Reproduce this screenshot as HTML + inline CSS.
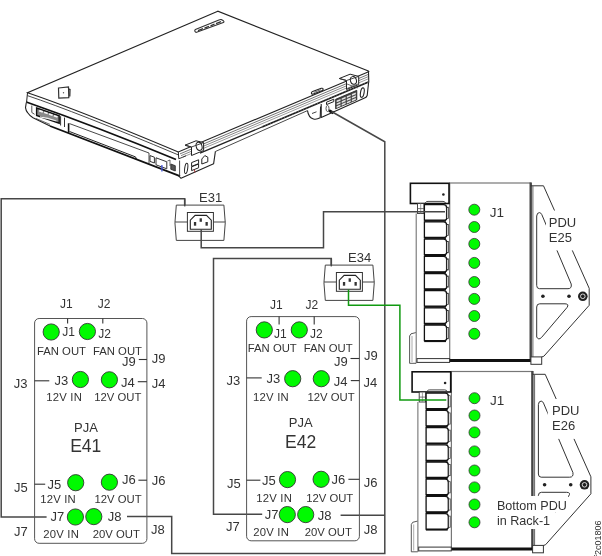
<!DOCTYPE html>
<html><head><meta charset="utf-8"><style>
html,body{margin:0;padding:0;background:#fff;}
svg{display:block;will-change:transform;}
text{font-family:"Liberation Sans",sans-serif;fill:#333;}
</style></head><body>
<svg width="602" height="556" viewBox="0 0 602 556">
<rect width="602" height="556" fill="#fff"/>
<path d="M217.8,11.2 L27.5,92.75 Q76.2,109.1 178.3,152 L368,71.9 Q369.6,71.4 368.4,70.9 Z" fill="#fff" stroke="#222" stroke-width="1.1"/>
<path d="M196.6,32.3 L223.3,22.6 Q224.6,21.8 223.4,20.8 L221.3,19.6 Q220.3,19.3 219.5,19.8 L196,29.3 Q194.2,30.2 195,31.6 Q195.6,32.6 196.6,32.3 Z" fill="#fff" stroke="#333" stroke-width="1.1"/>
<path d="M198,30.6 L203,28.7 M204.5,28.1 L209,26.4 M210.5,25.8 L214.5,24.2 M216,23.6 L221,21.7" stroke="#333" stroke-width="1.3"/>
<path d="M58.5,88 L68.5,86.8 L68.8,97.6 L58.8,98.2 Z" fill="#fff" stroke="#333" stroke-width="1.2"/>
<circle cx="63.5" cy="92.8" r="0.7" fill="#555"/>
<path d="M68.8,89 L70,89.5 L69.8,96.5" fill="none" stroke="#222" stroke-width="1.2"/>
<path d="M312.6,91.6 L321.3,88.3 Q323.4,87.8 323.1,89.5 Q322.9,90.3 321.9,90.7 L313.3,94 Q311.3,94.5 311.4,92.9 Q311.6,92 312.6,91.6 Z" fill="#fff" stroke="#222" stroke-width="1.1"/>
<path d="M313.8,92.4 L320.9,89.7" stroke="#555" stroke-width="0.9"/>
<path d="M27.5,95.65 Q76.2,112.00 178.3,154.90" fill="none" stroke="#333" stroke-width="0.9" stroke-linejoin="round" />
<path d="M26.3,102.00 Q100,128.00 176,159.50" fill="none" stroke="#111" stroke-width="1.8" stroke-linejoin="round" />
<path d="M27.5,92.75 L26.6,102" fill="none" stroke="#222" stroke-width="1.0" stroke-linejoin="round" />
<path d="M26.3,102.5 L25.5,107.7 Q26,111 27.5,112.5 Q29.5,115.5 33,117.8 L50,126" fill="none" stroke="#222" stroke-width="1.1" stroke-linejoin="round" />
<path d="M50,126 L180,176.05" fill="none" stroke="#111" stroke-width="1.8" stroke-linejoin="round" />
<path d="M36,118.5 L50,124.4" fill="none" stroke="#444" stroke-width="0.8" stroke-linejoin="round" />
<path d="M36.6,108 L59.2,115.8 L59.2,123.2 L36.6,115.4 Z" fill="#8a8a8a" stroke="#111" stroke-width="1.4"/>
<path d="M39.2,110.6 l3.6,1.25" stroke="#fafafa" stroke-width="1.7"/>
<path d="M44.1,112.3 l3.6,1.25" stroke="#fafafa" stroke-width="1.7"/>
<path d="M49.0,114.0 l3.6,1.25" stroke="#fafafa" stroke-width="1.7"/>
<path d="M53.9,115.7 l3.6,1.25" stroke="#fafafa" stroke-width="1.7"/>
<path d="M40,116.2 Q48,116.8 56.5,120.6 L56.5,121.6 Q48,119 40,117.6 Z" fill="#eee"/>
<path d="M31.8,105.5 L31.8,112.5 L34.6,114.3" fill="none" stroke="#555" stroke-width="1.0" stroke-linejoin="round" />
<path d="M60.6,116.2 L60.6,125.5 M64.5,117.6 L64.5,127" fill="none" stroke="#333" stroke-width="1.0" stroke-linejoin="round" />
<path d="M68.6,123.3 L68.6,132.9" fill="none" stroke="#111" stroke-width="1.6" stroke-linejoin="round" />
<path d="M69.5,123.6 L149,153.0 L149,163.6" fill="none" stroke="#333" stroke-width="0.9" stroke-linejoin="round" />
<path d="M69.5,131.5 L135.5,156.9 L136.5,159.0" fill="none" stroke="#222" stroke-width="1.0" stroke-linejoin="round" />
<path d="M150,155.6 L154.4,157.2 L154.4,163 L150,161.4 Z" fill="none" stroke="#333" stroke-width="1.0" stroke-linejoin="round" />
<path d="M156,157.8 L166.8,161.8 L166.8,168.8 L156,164.8 Z" fill="none" stroke="#333" stroke-width="1.0" stroke-linejoin="round" />
<line x1="161.9" y1="165" x2="161.9" y2="171.5" stroke="#4455dd" stroke-width="1.3"/>
<path d="M170.8,164 L175.3,165.7 L175.3,171 L170.8,169.3 Z" fill="#555" stroke="#222" stroke-width="0.8"/>
<path d="M167.5,161 L170,160 L170,166" fill="none" stroke="#444" stroke-width="0.8" stroke-linejoin="round" />
<path d="M180.0,153.88 L368.5,74.34" fill="none" stroke="#444" stroke-width="0.75" stroke-linejoin="round" />
<path d="M181.0,155.66 L368.5,76.54" fill="none" stroke="#555" stroke-width="0.7" stroke-linejoin="round" />
<path d="M183.0,157.02 L368.5,78.74" fill="none" stroke="#666" stroke-width="0.65" stroke-linejoin="round" />
<path d="M200.0,153.14 L262.0,126.98" fill="none" stroke="#222" stroke-width="1.3" stroke-linejoin="round" />
<path d="M262.0,126.98 L368.5,82.04" fill="none" stroke="#1a1a1a" stroke-width="1.8" stroke-linejoin="round" />
<path d="M262.0,126.98 L368.5,82.04" fill="none" stroke="#bbb" stroke-width="0.6" stroke-linejoin="round" stroke-dasharray="0.7 2.3"/>
<path d="M215.4,151.5 L307.5,110.6" fill="none" stroke="#333" stroke-width="0.9" stroke-linejoin="round" />
<path d="M368.5,71.2 L368.8,82.5" fill="none" stroke="#222" stroke-width="1.1" stroke-linejoin="round" />
<path d="M368.6,82.5 L367.2,95.5 Q366.5,97.5 364,98.3 L321.2,117.4 L321.2,104" fill="none" stroke="#222" stroke-width="1.1" stroke-linejoin="round" />
<path d="M307.5,110.6 Q308.5,117.6 313.5,119 Q316.5,119.8 320.2,117.8 L320.6,106.5" fill="none" stroke="#222" stroke-width="1.1" stroke-linejoin="round" />
<path d="M312,113.5 L316.5,111.8" fill="none" stroke="#444" stroke-width="1.0" stroke-linejoin="round" />
<path d="M335.6,99.3 L356.8,90.3 L356.8,99.8 L335.6,108.8 Z" fill="#444" stroke="#222" stroke-width="0.8"/>
<path d="M336.6,100.6 l3.9,-1.65 l0,1.7 l-3.9,1.65 z" fill="#e4e4e4"/>
<path d="M341.7,98.4 l3.9,-1.65 l0,1.7 l-3.9,1.65 z" fill="#e4e4e4"/>
<path d="M346.8,96.3 l3.9,-1.65 l0,1.7 l-3.9,1.65 z" fill="#e4e4e4"/>
<path d="M351.9,94.1 l3.9,-1.65 l0,1.7 l-3.9,1.65 z" fill="#e4e4e4"/>
<path d="M336.6,103.4 l3.9,-1.65 l0,1.7 l-3.9,1.65 z" fill="#e4e4e4"/>
<path d="M341.7,101.2 l3.9,-1.65 l0,1.7 l-3.9,1.65 z" fill="#e4e4e4"/>
<path d="M346.8,99.1 l3.9,-1.65 l0,1.7 l-3.9,1.65 z" fill="#e4e4e4"/>
<path d="M351.9,96.9 l3.9,-1.65 l0,1.7 l-3.9,1.65 z" fill="#e4e4e4"/>
<path d="M336.6,106.2 l3.9,-1.65 l0,1.7 l-3.9,1.65 z" fill="#e4e4e4"/>
<path d="M341.7,104.0 l3.9,-1.65 l0,1.7 l-3.9,1.65 z" fill="#e4e4e4"/>
<path d="M346.8,101.9 l3.9,-1.65 l0,1.7 l-3.9,1.65 z" fill="#e4e4e4"/>
<path d="M351.9,99.7 l3.9,-1.65 l0,1.7 l-3.9,1.65 z" fill="#e4e4e4"/>
<ellipse cx="362.3" cy="92.6" rx="1.8" ry="4.8" transform="rotate(10 362.3 92.6)" fill="#fff" stroke="#222" stroke-width="1.1"/>
<path d="M326.5,102.2 L333.8,99.2 L333.8,101.6 L326.5,104.6 Z" fill="none" stroke="#222" stroke-width="1.0" stroke-linejoin="round" />
<ellipse cx="327.5" cy="108.5" rx="1.5" ry="3" fill="#fff" stroke="#444" stroke-width="0.9"/>
<path d="M329,110.5 L333.5,113" fill="none" stroke="#111" stroke-width="2.6" stroke-linejoin="round" />
<path d="M339.3,78.5 L350.1,74.2 L358.7,76.4 L358.7,84.5 L346.5,89.5 L346.5,80.5 Z" fill="#fff" stroke="#222" stroke-width="1"/>
<ellipse cx="353.4" cy="80.4" rx="3.0" ry="3.9" transform="rotate(-15 353.4 80.4)" fill="#fff" stroke="#222" stroke-width="1"/>
<path d="M347,84 L357.5,88 M347,88.5 L357.5,84" stroke="#444" stroke-width="0.8"/>
<path d="M339.3,78.5 L346.5,80.5 L358.7,76.4" fill="none" stroke="#333" stroke-width="0.9" stroke-linejoin="round" />
<path d="M185,145.2 L196,140.8 L203.6,142.6 L203.6,150.5 L191.5,155.5 L191.5,147 Z" fill="#fff" stroke="#222" stroke-width="1"/>
<ellipse cx="199.1" cy="146.3" rx="2.9" ry="4.2" transform="rotate(-15 199.1 146.3)" fill="#fff" stroke="#222" stroke-width="1"/>
<path d="M185,145.2 L191.5,147 L203.6,142.6" fill="none" stroke="#333" stroke-width="0.9" stroke-linejoin="round" />
<path d="M178.3,152 L178.8,158.8" fill="none" stroke="#222" stroke-width="1.0" stroke-linejoin="round" />
<path d="M178.8,158.8 L186,155.8" fill="none" stroke="#222" stroke-width="0.9" stroke-linejoin="round" />
<path d="M215.4,151.4 L213.6,163.8 L181,178.3 L178.5,175.6" fill="none" stroke="#222" stroke-width="1.1" stroke-linejoin="round" />
<path d="M179.6,176 L179.6,160.5" fill="none" stroke="#333" stroke-width="0.9" stroke-linejoin="round" />
<ellipse cx="186.2" cy="168.4" rx="1.5" ry="5.2" transform="rotate(8 186.2 168.4)" fill="#fff" stroke="#222" stroke-width="1"/>
<path d="M191.6,162.6 L198.6,159.8 L198.6,163.6 L191.6,166.4 Z" fill="none" stroke="#222" stroke-width="1.0" stroke-linejoin="round" />
<path d="M191.6,166.8 L198.6,164 L198.6,167.8 L191.6,170.6 Z" fill="none" stroke="#222" stroke-width="1.0" stroke-linejoin="round" />
<line x1="194.3" y1="169.5" x2="195" y2="172.5" stroke="#aa3333" stroke-width="0.9"/>
<path d="M201.8,164 L201.8,159 L204.8,155.6 L207.8,157.2 L207.8,161.8 Z" fill="none" stroke="#222" stroke-width="1.0" stroke-linejoin="round" />
<g transform="translate(0,0)">
<rect x="449.7" y="183" width="81" height="177.5" fill="#fff" stroke="#777" stroke-width="1.2"/>
<line x1="530.7" y1="182.5" x2="530.7" y2="361" stroke="#444" stroke-width="2.4"/>
<line x1="448" y1="360.6" x2="531" y2="360.6" stroke="#111" stroke-width="3"/>
<path d="M530.7,185.8 L543.5,185.8 L589.2,288.3 L589.2,305.3 L543.9,356.2 L541.7,357" fill="none" stroke="#333" stroke-width="1"/>
<line x1="532.9" y1="186" x2="532.9" y2="357" stroke="#555" stroke-width="0.9"/>
<rect x="530.9" y="356.9" width="10.8" height="7.4" fill="#fff" stroke="#333" stroke-width="1"/>
<path d="M536.7,285.5 L536.7,216 Q537,212.5 539.5,212.6 Q541,212.8 541.8,214.6 L571.2,284 Q572,288.7 568,288.7 L539.5,288.7 Q536.7,288.7 536.7,285.5 Z" fill="none" stroke="#333" stroke-width="1"/>
<path d="M536.7,307 Q536.7,303.8 539.7,303.8 L565,303.8 Q569.5,304 567,307.5 L541.5,337.5 Q538.5,340.5 536.7,337 Z" fill="none" stroke="#333" stroke-width="1"/>
<circle cx="542.9" cy="296.2" r="1.8" fill="#222"/>
<circle cx="569" cy="296.2" r="1.8" fill="#222"/>
<circle cx="582.8" cy="296.3" r="4.8" fill="#222"/>
<circle cx="582.8" cy="296.3" r="2.3" fill="none" stroke="#e8e8e8" stroke-width="0.9"/>
<rect x="410.4" y="183.3" width="38.6" height="20.2" fill="#fff" stroke="#111" stroke-width="1.6"/>
<circle cx="443.4" cy="194.5" r="1.3" fill="#222"/>
<line x1="416.2" y1="213.5" x2="416.2" y2="363.3" stroke="#666" stroke-width="1"/>
<rect x="417.5" y="203.5" width="6.5" height="10" fill="#fff" stroke="#333" stroke-width="0.9"/>
<line x1="420.7" y1="203.5" x2="420.7" y2="213.5" stroke="#888" stroke-width="0.8"/>
<line x1="417.5" y1="208.6" x2="424" y2="208.6" stroke="#555" stroke-width="0.8"/>
<path d="M425.5,203.6 L425.5,202.5 Q426,201.4 428,201.4 L443,201.4 Q445,201.4 445.5,203" fill="none" stroke="#333" stroke-width="0.9"/>
<path d="M424.4,204.7 L443.5,204.7 Q446.6,204.7 446.6,207.7 L446.6,218.4 Q446.6,220.2 444.5,220.2 L424.4,220.2 Z" fill="#fff" stroke="#111" stroke-width="1.3"/>
<line x1="424.2" y1="220.9" x2="446" y2="220.9" stroke="#111" stroke-width="1.6"/>
<rect x="446.9" y="207.2" width="1.6" height="11.2" fill="#fff" stroke="#222" stroke-width="0.7"/>
<path d="M424.4,221.9 L443.5,221.9 Q446.6,221.9 446.6,224.9 L446.6,235.6 Q446.6,237.4 444.5,237.4 L424.4,237.4 Z" fill="#fff" stroke="#111" stroke-width="1.3"/>
<line x1="424.2" y1="238.1" x2="446" y2="238.1" stroke="#111" stroke-width="1.6"/>
<rect x="446.9" y="224.4" width="1.6" height="11.2" fill="#fff" stroke="#222" stroke-width="0.7"/>
<path d="M424.4,239.1 L443.5,239.1 Q446.6,239.1 446.6,242.1 L446.6,252.8 Q446.6,254.6 444.5,254.6 L424.4,254.6 Z" fill="#fff" stroke="#111" stroke-width="1.3"/>
<line x1="424.2" y1="255.3" x2="446" y2="255.3" stroke="#111" stroke-width="1.6"/>
<rect x="446.9" y="241.6" width="1.6" height="11.2" fill="#fff" stroke="#222" stroke-width="0.7"/>
<path d="M424.4,256.3 L443.5,256.3 Q446.6,256.3 446.6,259.3 L446.6,270.0 Q446.6,271.8 444.5,271.8 L424.4,271.8 Z" fill="#fff" stroke="#111" stroke-width="1.3"/>
<line x1="424.2" y1="272.5" x2="446" y2="272.5" stroke="#111" stroke-width="1.6"/>
<rect x="446.9" y="258.8" width="1.6" height="11.2" fill="#fff" stroke="#222" stroke-width="0.7"/>
<path d="M424.4,273.5 L443.5,273.5 Q446.6,273.5 446.6,276.5 L446.6,287.2 Q446.6,289.0 444.5,289.0 L424.4,289.0 Z" fill="#fff" stroke="#111" stroke-width="1.3"/>
<line x1="424.2" y1="289.7" x2="446" y2="289.7" stroke="#111" stroke-width="1.6"/>
<rect x="446.9" y="276.0" width="1.6" height="11.2" fill="#fff" stroke="#222" stroke-width="0.7"/>
<path d="M424.4,290.7 L443.5,290.7 Q446.6,290.7 446.6,293.7 L446.6,304.4 Q446.6,306.2 444.5,306.2 L424.4,306.2 Z" fill="#fff" stroke="#111" stroke-width="1.3"/>
<line x1="424.2" y1="306.9" x2="446" y2="306.9" stroke="#111" stroke-width="1.6"/>
<rect x="446.9" y="293.2" width="1.6" height="11.2" fill="#fff" stroke="#222" stroke-width="0.7"/>
<path d="M424.4,307.9 L443.5,307.9 Q446.6,307.9 446.6,310.9 L446.6,321.6 Q446.6,323.4 444.5,323.4 L424.4,323.4 Z" fill="#fff" stroke="#111" stroke-width="1.3"/>
<line x1="424.2" y1="324.1" x2="446" y2="324.1" stroke="#111" stroke-width="1.6"/>
<rect x="446.9" y="310.4" width="1.6" height="11.2" fill="#fff" stroke="#222" stroke-width="0.7"/>
<path d="M424.4,325.1 L443.5,325.1 Q446.6,325.1 446.6,328.1 L446.6,338.8 Q446.6,340.6 444.5,340.6 L424.4,340.6 Z" fill="#fff" stroke="#111" stroke-width="1.3"/>
<line x1="424.2" y1="341.3" x2="446" y2="341.3" stroke="#111" stroke-width="1.6"/>
<rect x="446.9" y="327.6" width="1.6" height="11.2" fill="#fff" stroke="#222" stroke-width="0.7"/>
<rect x="417" y="358.6" width="32.6" height="3.8" fill="#fff" stroke="#333" stroke-width="1"/>
<path d="M415.8,332.6 L411,333.8 L409.6,336 L409.6,363.3 L416,363.3" fill="none" stroke="#444" stroke-width="0.9"/>
<line x1="412" y1="336" x2="412" y2="362" stroke="#888" stroke-width="0.7"/>
<circle cx="474.3" cy="209.7" r="5.5" fill="#00fa00" stroke="#333" stroke-width="0.8"/>
<circle cx="474.3" cy="227.0" r="5.5" fill="#00fa00" stroke="#333" stroke-width="0.8"/>
<circle cx="474.3" cy="243.9" r="5.5" fill="#00fa00" stroke="#333" stroke-width="0.8"/>
<circle cx="474.3" cy="262.9" r="5.5" fill="#00fa00" stroke="#333" stroke-width="0.8"/>
<circle cx="474.3" cy="282.0" r="5.5" fill="#00fa00" stroke="#333" stroke-width="0.8"/>
<circle cx="474.3" cy="298.9" r="5.5" fill="#00fa00" stroke="#333" stroke-width="0.8"/>
<circle cx="474.3" cy="316.0" r="5.5" fill="#00fa00" stroke="#333" stroke-width="0.8"/>
<circle cx="474.3" cy="333.8" r="5.5" fill="#00fa00" stroke="#333" stroke-width="0.8"/>
<text x="489.8" y="216.9" font-size="13.5">J1</text>
<rect x="546" y="210.5" width="34" height="39.9" fill="#fff"/>
<text x="548.8" y="226.8" font-size="13">PDU</text>
<text x="548.8" y="241.7" font-size="13">E25</text>
</g>
<g transform="translate(1.7,188.5)">
<rect x="449.7" y="183" width="81" height="177.5" fill="#fff" stroke="#777" stroke-width="1.2"/>
<line x1="530.7" y1="182.5" x2="530.7" y2="361" stroke="#444" stroke-width="2.4"/>
<line x1="448" y1="360.6" x2="531" y2="360.6" stroke="#111" stroke-width="3"/>
<path d="M530.7,185.8 L543.5,185.8 L589.2,288.3 L589.2,305.3 L543.9,356.2 L541.7,357" fill="none" stroke="#333" stroke-width="1"/>
<line x1="532.9" y1="186" x2="532.9" y2="357" stroke="#555" stroke-width="0.9"/>
<rect x="530.9" y="356.9" width="10.8" height="7.4" fill="#fff" stroke="#333" stroke-width="1"/>
<path d="M536.7,285.5 L536.7,216 Q537,212.5 539.5,212.6 Q541,212.8 541.8,214.6 L571.2,284 Q572,288.7 568,288.7 L539.5,288.7 Q536.7,288.7 536.7,285.5 Z" fill="none" stroke="#333" stroke-width="1"/>
<path d="M536.7,307 Q536.7,303.8 539.7,303.8 L565,303.8 Q569.5,304 567,307.5 L541.5,337.5 Q538.5,340.5 536.7,337 Z" fill="none" stroke="#333" stroke-width="1"/>
<circle cx="542.9" cy="296.2" r="1.8" fill="#222"/>
<circle cx="569" cy="296.2" r="1.8" fill="#222"/>
<circle cx="582.8" cy="296.3" r="4.8" fill="#222"/>
<circle cx="582.8" cy="296.3" r="2.3" fill="none" stroke="#e8e8e8" stroke-width="0.9"/>
<rect x="410.4" y="183.3" width="38.6" height="20.2" fill="#fff" stroke="#111" stroke-width="1.6"/>
<circle cx="443.4" cy="194.5" r="1.3" fill="#222"/>
<line x1="416.2" y1="213.5" x2="416.2" y2="363.3" stroke="#666" stroke-width="1"/>
<rect x="417.5" y="203.5" width="6.5" height="10" fill="#fff" stroke="#333" stroke-width="0.9"/>
<line x1="420.7" y1="203.5" x2="420.7" y2="213.5" stroke="#888" stroke-width="0.8"/>
<line x1="417.5" y1="208.6" x2="424" y2="208.6" stroke="#555" stroke-width="0.8"/>
<path d="M425.5,203.6 L425.5,202.5 Q426,201.4 428,201.4 L443,201.4 Q445,201.4 445.5,203" fill="none" stroke="#333" stroke-width="0.9"/>
<path d="M424.4,204.7 L443.5,204.7 Q446.6,204.7 446.6,207.7 L446.6,218.4 Q446.6,220.2 444.5,220.2 L424.4,220.2 Z" fill="#fff" stroke="#111" stroke-width="1.3"/>
<line x1="424.2" y1="220.9" x2="446" y2="220.9" stroke="#111" stroke-width="1.6"/>
<rect x="446.9" y="207.2" width="1.6" height="11.2" fill="#fff" stroke="#222" stroke-width="0.7"/>
<path d="M424.4,221.9 L443.5,221.9 Q446.6,221.9 446.6,224.9 L446.6,235.6 Q446.6,237.4 444.5,237.4 L424.4,237.4 Z" fill="#fff" stroke="#111" stroke-width="1.3"/>
<line x1="424.2" y1="238.1" x2="446" y2="238.1" stroke="#111" stroke-width="1.6"/>
<rect x="446.9" y="224.4" width="1.6" height="11.2" fill="#fff" stroke="#222" stroke-width="0.7"/>
<path d="M424.4,239.1 L443.5,239.1 Q446.6,239.1 446.6,242.1 L446.6,252.8 Q446.6,254.6 444.5,254.6 L424.4,254.6 Z" fill="#fff" stroke="#111" stroke-width="1.3"/>
<line x1="424.2" y1="255.3" x2="446" y2="255.3" stroke="#111" stroke-width="1.6"/>
<rect x="446.9" y="241.6" width="1.6" height="11.2" fill="#fff" stroke="#222" stroke-width="0.7"/>
<path d="M424.4,256.3 L443.5,256.3 Q446.6,256.3 446.6,259.3 L446.6,270.0 Q446.6,271.8 444.5,271.8 L424.4,271.8 Z" fill="#fff" stroke="#111" stroke-width="1.3"/>
<line x1="424.2" y1="272.5" x2="446" y2="272.5" stroke="#111" stroke-width="1.6"/>
<rect x="446.9" y="258.8" width="1.6" height="11.2" fill="#fff" stroke="#222" stroke-width="0.7"/>
<path d="M424.4,273.5 L443.5,273.5 Q446.6,273.5 446.6,276.5 L446.6,287.2 Q446.6,289.0 444.5,289.0 L424.4,289.0 Z" fill="#fff" stroke="#111" stroke-width="1.3"/>
<line x1="424.2" y1="289.7" x2="446" y2="289.7" stroke="#111" stroke-width="1.6"/>
<rect x="446.9" y="276.0" width="1.6" height="11.2" fill="#fff" stroke="#222" stroke-width="0.7"/>
<path d="M424.4,290.7 L443.5,290.7 Q446.6,290.7 446.6,293.7 L446.6,304.4 Q446.6,306.2 444.5,306.2 L424.4,306.2 Z" fill="#fff" stroke="#111" stroke-width="1.3"/>
<line x1="424.2" y1="306.9" x2="446" y2="306.9" stroke="#111" stroke-width="1.6"/>
<rect x="446.9" y="293.2" width="1.6" height="11.2" fill="#fff" stroke="#222" stroke-width="0.7"/>
<path d="M424.4,307.9 L443.5,307.9 Q446.6,307.9 446.6,310.9 L446.6,321.6 Q446.6,323.4 444.5,323.4 L424.4,323.4 Z" fill="#fff" stroke="#111" stroke-width="1.3"/>
<line x1="424.2" y1="324.1" x2="446" y2="324.1" stroke="#111" stroke-width="1.6"/>
<rect x="446.9" y="310.4" width="1.6" height="11.2" fill="#fff" stroke="#222" stroke-width="0.7"/>
<path d="M424.4,325.1 L443.5,325.1 Q446.6,325.1 446.6,328.1 L446.6,338.8 Q446.6,340.6 444.5,340.6 L424.4,340.6 Z" fill="#fff" stroke="#111" stroke-width="1.3"/>
<line x1="424.2" y1="341.3" x2="446" y2="341.3" stroke="#111" stroke-width="1.6"/>
<rect x="446.9" y="327.6" width="1.6" height="11.2" fill="#fff" stroke="#222" stroke-width="0.7"/>
<rect x="417" y="358.6" width="32.6" height="3.8" fill="#fff" stroke="#333" stroke-width="1"/>
<path d="M415.8,332.6 L411,333.8 L409.6,336 L409.6,363.3 L416,363.3" fill="none" stroke="#444" stroke-width="0.9"/>
<line x1="412" y1="336" x2="412" y2="362" stroke="#888" stroke-width="0.7"/>
<circle cx="472.8" cy="209.7" r="5.5" fill="#00fa00" stroke="#333" stroke-width="0.8"/>
<circle cx="472.8" cy="227.0" r="5.5" fill="#00fa00" stroke="#333" stroke-width="0.8"/>
<circle cx="472.8" cy="243.9" r="5.5" fill="#00fa00" stroke="#333" stroke-width="0.8"/>
<circle cx="472.8" cy="262.9" r="5.5" fill="#00fa00" stroke="#333" stroke-width="0.8"/>
<circle cx="472.8" cy="282.0" r="5.5" fill="#00fa00" stroke="#333" stroke-width="0.8"/>
<circle cx="472.8" cy="298.9" r="5.5" fill="#00fa00" stroke="#333" stroke-width="0.8"/>
<circle cx="472.8" cy="316.0" r="5.5" fill="#00fa00" stroke="#333" stroke-width="0.8"/>
<circle cx="472.8" cy="333.8" r="5.5" fill="#00fa00" stroke="#333" stroke-width="0.8"/>
<text x="488.3" y="216.9" font-size="13.5">J1</text>
<rect x="546" y="210.5" width="34" height="39.9" fill="#fff"/>
<text x="550.3" y="226.8" font-size="13">PDU</text>
<text x="550.3" y="241.7" font-size="13">E26</text>
</g>
<rect x="495" y="496" width="73" height="16" fill="#fff"/>
<rect x="495" y="511.5" width="60" height="17.5" fill="#fff"/>
<text x="496.9" y="510.1" font-size="12.6">Bottom PDU</text>
<text x="496.9" y="524.6" font-size="12.6">in Rack-1</text>
<text transform="translate(601.4,557.6) rotate(-90)" font-size="9" fill="#444">f2c01806</text>
<polyline points="184.7,206.4 184.7,198.7 1.2,198.7 1.2,517 46.6,517" fill="none" stroke="#474747" stroke-width="1.5" />
<polyline points="201.2,229.5 201.2,247.7 323.5,247.7 323.5,211.8 445,211.8" fill="none" stroke="#474747" stroke-width="1.5" />
<polyline points="262.2,514.3 213.5,514.3 213.5,258.5 331.3,258.5 331.3,266" fill="none" stroke="#474747" stroke-width="1.5" />
<polyline points="331.5,111.5 384.8,141.8 384.8,553.5 171.7,553.5 171.7,516.6 127,516.6" fill="none" stroke="#474747" stroke-width="1.5" />
<line x1="340.6" y1="515.3" x2="384.8" y2="515.3" stroke="#474747" stroke-width="1.5"/>
<polyline points="348.5,289.5 348.5,305.3 399.9,305.3 399.9,400 446.3,400" fill="none" stroke="#119a11" stroke-width="1.5" />
<rect x="34.6" y="318.5" width="112.30000000000001" height="224.79999999999995" rx="4.5" fill="none" stroke="#555" stroke-width="1"/>
<line x1="67.6" y1="318.5" x2="67.6" y2="323.5" stroke="#333" stroke-width="1.1"/>
<line x1="102.8" y1="318.5" x2="102.8" y2="323.5" stroke="#333" stroke-width="1.1"/>
<line x1="138.8" y1="359.5" x2="146.9" y2="359.5" stroke="#333" stroke-width="1.1"/>
<line x1="34.6" y1="380.8" x2="49.3" y2="380.8" stroke="#333" stroke-width="1.1"/>
<line x1="137.8" y1="381.7" x2="146.9" y2="381.7" stroke="#333" stroke-width="1.1"/>
<line x1="34.6" y1="484.2" x2="45.2" y2="484.2" stroke="#333" stroke-width="1.1"/>
<line x1="138.4" y1="480.2" x2="146.9" y2="480.2" stroke="#333" stroke-width="1.1"/>
<circle cx="51.2" cy="332" r="8.1" fill="#00fa00" stroke="#333" stroke-width="0.9"/>
<circle cx="87.4" cy="331.5" r="8.1" fill="#00fa00" stroke="#333" stroke-width="0.9"/>
<circle cx="80.4" cy="379.5" r="8.1" fill="#00fa00" stroke="#333" stroke-width="0.9"/>
<circle cx="109.4" cy="379.8" r="8.1" fill="#00fa00" stroke="#333" stroke-width="0.9"/>
<circle cx="75.7" cy="482.7" r="8.1" fill="#00fa00" stroke="#333" stroke-width="0.9"/>
<circle cx="109.4" cy="482.2" r="8.1" fill="#00fa00" stroke="#333" stroke-width="0.9"/>
<circle cx="75.4" cy="517" r="8.1" fill="#00fa00" stroke="#333" stroke-width="0.9"/>
<circle cx="93.8" cy="516.6" r="8.1" fill="#00fa00" stroke="#333" stroke-width="0.9"/>
<text x="60.0" y="308" font-size="12" text-anchor="start" >J1</text>
<text x="97.7" y="308" font-size="12" text-anchor="start" >J2</text>
<text x="62.2" y="336" font-size="12" text-anchor="start" >J1</text>
<text x="98.3" y="337.5" font-size="12" text-anchor="start" >J2</text>
<text x="37.0" y="355" font-size="11.3" text-anchor="start" >FAN OUT</text>
<text x="93.0" y="354.5" font-size="11.3" text-anchor="start" >FAN OUT</text>
<text x="122.0" y="365.8" font-size="13" text-anchor="start" >J9</text>
<text x="151.8" y="363" font-size="13" text-anchor="start" >J9</text>
<text x="13.8" y="388" font-size="13" text-anchor="start" >J3</text>
<text x="54.5" y="384.6" font-size="13" text-anchor="start" >J3</text>
<text x="121.1" y="386.5" font-size="13" text-anchor="start" >J4</text>
<text x="151.8" y="387.8" font-size="13" text-anchor="start" >J4</text>
<text x="46.3" y="401" font-size="11.3" text-anchor="start" letter-spacing="0.2">12V IN</text>
<text x="94.3" y="401" font-size="11.3" text-anchor="start" >12V OUT</text>
<text x="74.0" y="431.8" font-size="13" text-anchor="start" >PJA</text>
<text x="70.2" y="451.9" font-size="17.5" text-anchor="start" >E41</text>
<text x="13.9" y="492" font-size="13" text-anchor="start" >J5</text>
<text x="47.6" y="488.8" font-size="13" text-anchor="start" >J5</text>
<text x="122.0" y="484.2" font-size="13" text-anchor="start" >J6</text>
<text x="151.7" y="485.4" font-size="13" text-anchor="start" >J6</text>
<text x="40.2" y="502.8" font-size="11.3" text-anchor="start" letter-spacing="0.2">12V IN</text>
<text x="94.5" y="502.8" font-size="11.3" text-anchor="start" >12V OUT</text>
<text x="50.5" y="520.8" font-size="13" text-anchor="start" >J7</text>
<text x="107.7" y="520.5" font-size="13" text-anchor="start" >J8</text>
<text x="13.9" y="536" font-size="13" text-anchor="start" >J7</text>
<text x="150.9" y="533.7" font-size="13" text-anchor="start" >J8</text>
<text x="43.3" y="537.7" font-size="11.3" text-anchor="start" letter-spacing="0.2">20V IN</text>
<text x="92.8" y="537.7" font-size="11.3" text-anchor="start" >20V OUT</text>
<rect x="246.6" y="316.6" width="112.79999999999998" height="224.19999999999993" rx="4.5" fill="none" stroke="#555" stroke-width="1"/>
<line x1="279.1" y1="316.6" x2="279.1" y2="324.6" stroke="#333" stroke-width="1.1"/>
<line x1="314.2" y1="316.6" x2="314.2" y2="324.6" stroke="#333" stroke-width="1.1"/>
<line x1="350.5" y1="358.5" x2="359.4" y2="358.5" stroke="#333" stroke-width="1.1"/>
<line x1="246.6" y1="377.9" x2="261.7" y2="377.9" stroke="#333" stroke-width="1.1"/>
<line x1="350.8" y1="380.6" x2="359.4" y2="380.6" stroke="#333" stroke-width="1.1"/>
<line x1="246.6" y1="480.2" x2="260.4" y2="480.2" stroke="#333" stroke-width="1.1"/>
<line x1="348.4" y1="479.3" x2="359.4" y2="479.3" stroke="#333" stroke-width="1.1"/>
<circle cx="264.3" cy="329.9" r="8.1" fill="#00fa00" stroke="#333" stroke-width="0.9"/>
<circle cx="299.3" cy="329.9" r="8.1" fill="#00fa00" stroke="#333" stroke-width="0.9"/>
<circle cx="292.7" cy="378.7" r="8.1" fill="#00fa00" stroke="#333" stroke-width="0.9"/>
<circle cx="321.3" cy="378.7" r="8.1" fill="#00fa00" stroke="#333" stroke-width="0.9"/>
<circle cx="287.5" cy="479.6" r="8.1" fill="#00fa00" stroke="#333" stroke-width="0.9"/>
<circle cx="321.1" cy="479.3" r="8.1" fill="#00fa00" stroke="#333" stroke-width="0.9"/>
<circle cx="287.3" cy="514.6" r="8.1" fill="#00fa00" stroke="#333" stroke-width="0.9"/>
<circle cx="305.7" cy="514.6" r="8.1" fill="#00fa00" stroke="#333" stroke-width="0.9"/>
<text x="270.0" y="309" font-size="12" text-anchor="start" >J1</text>
<text x="305.6" y="309" font-size="12" text-anchor="start" >J2</text>
<text x="274.0" y="337.8" font-size="12" text-anchor="start" >J1</text>
<text x="309.9" y="337.8" font-size="12" text-anchor="start" >J2</text>
<text x="247.8" y="351.7" font-size="11.3" text-anchor="start" >FAN OUT</text>
<text x="303.7" y="351.7" font-size="11.3" text-anchor="start" >FAN OUT</text>
<text x="334.1" y="365.5" font-size="13" text-anchor="start" >J9</text>
<text x="364.1" y="359.8" font-size="13" text-anchor="start" >J9</text>
<text x="226.6" y="385.1" font-size="13" text-anchor="start" >J3</text>
<text x="266.5" y="382.7" font-size="13" text-anchor="start" >J3</text>
<text x="333.7" y="385.9" font-size="13" text-anchor="start" >J4</text>
<text x="363.5" y="387.2" font-size="13" text-anchor="start" >J4</text>
<text x="253.1" y="400.5" font-size="11.3" text-anchor="start" letter-spacing="0.2">12V IN</text>
<text x="307.5" y="400.5" font-size="11.3" text-anchor="start" >12V OUT</text>
<text x="288.8" y="427.1" font-size="13" text-anchor="start" >PJA</text>
<text x="285.0" y="448.3" font-size="17.5" text-anchor="start" >E42</text>
<text x="227.0" y="488" font-size="13" text-anchor="start" >J5</text>
<text x="261.9" y="485" font-size="13" text-anchor="start" >J5</text>
<text x="331.5" y="483.8" font-size="13" text-anchor="start" >J6</text>
<text x="363.8" y="486.8" font-size="13" text-anchor="start" >J6</text>
<text x="256.3" y="502.3" font-size="11.3" text-anchor="start" letter-spacing="0.2">12V IN</text>
<text x="306.2" y="502" font-size="11.3" text-anchor="start" >12V OUT</text>
<text x="264.8" y="518.5" font-size="13" text-anchor="start" >J7</text>
<text x="317.7" y="519.6" font-size="13" text-anchor="start" >J8</text>
<text x="226.0" y="531.2" font-size="13" text-anchor="start" >J7</text>
<text x="363.8" y="533.9" font-size="13" text-anchor="start" >J8</text>
<text x="253.3" y="536" font-size="11.3" text-anchor="start" letter-spacing="0.2">20V IN</text>
<text x="304.8" y="536" font-size="11.3" text-anchor="start" >20V OUT</text>
<g transform="translate(0,0)">
<path d="M176.3,205.1 L223.9,205.1 Q226.6,222.7 223.9,240.4 L176.3,240.4 Q173.6,222.7 176.3,205.1 Z" fill="#fff" stroke="#444" stroke-width="1"/>
<line x1="175" y1="222" x2="187.4" y2="222" stroke="#444" stroke-width="1"/>
<line x1="213.4" y1="222" x2="225.3" y2="222" stroke="#444" stroke-width="1"/>
<rect x="187.4" y="212.5" width="26" height="18.8" fill="#fff" stroke="#333" stroke-width="1"/>
<path d="M195.1,215.4 L206.5,215.4 L211.3,220.2 L211.3,229.2 L190.3,229.2 L190.3,220.2 Z" fill="#fff" stroke="#222" stroke-width="1.1"/>
<rect x="199.6" y="218.3" width="2.3" height="3.5" fill="#333"/>
<rect x="193.9" y="222" width="2.3" height="3.7" fill="#333"/>
<rect x="205.5" y="222" width="2.3" height="3.7" fill="#333"/>
<text x="199.0" y="202.4" font-size="13" text-anchor="start" >E31</text>
</g>
<polyline points="184.7,198.7 184.7,206.4" fill="none" stroke="#474747" stroke-width="1.5" />
<polyline points="201.2,229.3 201.2,240.4" fill="none" stroke="#474747" stroke-width="1.5" />
<g transform="translate(149,60)">
<path d="M176.3,205.1 L223.9,205.1 Q226.6,222.7 223.9,240.4 L176.3,240.4 Q173.6,222.7 176.3,205.1 Z" fill="#fff" stroke="#444" stroke-width="1"/>
<line x1="175" y1="222" x2="187.4" y2="222" stroke="#444" stroke-width="1"/>
<line x1="213.4" y1="222" x2="225.3" y2="222" stroke="#444" stroke-width="1"/>
<rect x="187.4" y="212.5" width="26" height="18.8" fill="#fff" stroke="#333" stroke-width="1"/>
<path d="M195.1,215.4 L206.5,215.4 L211.3,220.2 L211.3,229.2 L190.3,229.2 L190.3,220.2 Z" fill="#fff" stroke="#222" stroke-width="1.1"/>
<rect x="199.6" y="218.3" width="2.3" height="3.5" fill="#333"/>
<rect x="193.9" y="222" width="2.3" height="3.7" fill="#333"/>
<rect x="205.5" y="222" width="2.3" height="3.7" fill="#333"/>
<text x="199.0" y="202.4" font-size="13" text-anchor="start" >E34</text>
</g>
<polyline points="331.3,258.5 331.3,266.4" fill="none" stroke="#474747" stroke-width="1.5" />
<polyline points="348.5,289.5 348.5,300.6" fill="none" stroke="#119a11" stroke-width="1.5" />
</svg></body></html>
